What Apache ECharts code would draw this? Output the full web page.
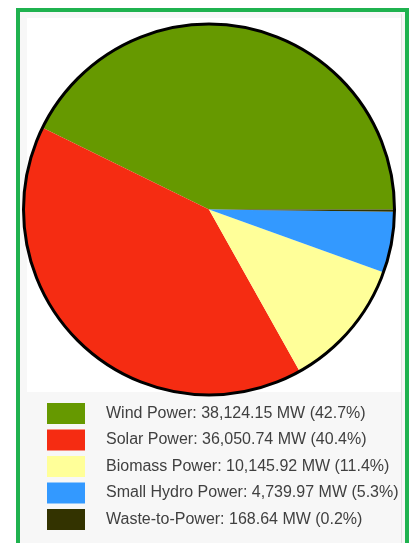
<!DOCTYPE html>
<html>
<head>
<meta charset="utf-8">
<script src="https://cdn.jsdelivr.net/npm/echarts@6/dist/echarts.min.js"></script>
<style>
  html, body { margin: 0; padding: 0; background: #ffffff; }
  #chart { width: 412px; height: 543px; }
</style>
</head>
<body>
<div id="chart"></div>
<script>
// Installed renewable capacity by source (MW)
const sources = ['Wind Power', 'Solar Power', 'Biomass Power', 'Small Hydro Power', 'Waste-to-Power'];
const capacityMW = [38124.15, 36050.74, 10145.92, 4739.97, 168.64];
const sliceColors = ['#669900', '#f52c12', '#ffff99', '#3399ff', '#333300'];

const total = capacityMW.reduce((a, b) => a + b, 0);
const fmtMW = v => v.toLocaleString('en-US', { minimumFractionDigits: 2, maximumFractionDigits: 2 });

const pieData = sources.map((name, i) => ({
  name: name,
  value: capacityMW[i],
  itemStyle: { color: sliceColors[i] }
}));

const chart = echarts.init(document.getElementById('chart'), null, { renderer: 'canvas' });

chart.setOption({
  animation: false,
  backgroundColor: '#ffffff',
  graphic: [
    // green frame
    { type: 'rect', z: -10, shape: { x: 18, y: 10, width: 389, height: 545 },
      style: { fill: '#f7f7f7', stroke: '#1fb24f', lineWidth: 4 } },
    // white plotting panel
    { type: 'rect', z: -9, shape: { x: 27, y: 18, width: 374, height: 374 },
      style: { fill: '#ffffff', lineWidth: 0 } },
    { type: 'line', z: -9, shape: { x1: 401.5, y1: 14, x2: 401.5, y2: 543 },
      style: { stroke: '#e2e2e2', lineWidth: 1 } }
  ],
  legend: {
    orient: 'vertical',
    left: 42,
    top: 398,
    itemWidth: 38,
    itemHeight: 21,
    itemGap: 5.5,
    icon: 'rect',
    selectedMode: false,
    data: sources,
    textStyle: {
      fontFamily: 'Liberation Sans, Arial, sans-serif',
      fontSize: 16,
      color: '#404040',
      padding: [0, 0, 0, 16]
    },
    formatter: function (name) {
      const i = sources.indexOf(name);
      const pct = (capacityMW[i] / total * 100).toFixed(1);
      return name + ': ' + fmtMW(capacityMW[i]) + ' MW (' + pct + '%)';
    }
  },
  series: [
    {
      type: 'pie',
      center: [209, 209.5],
      radius: [0, 186],
      startAngle: 0,
      clockwise: false,
      silent: true,
      label: { show: false },
      labelLine: { show: false },
      itemStyle: { borderWidth: 0 },
      data: pieData
    },
    {
      // outline of the whole disc
      type: 'pie',
      center: [209, 209.5],
      radius: [0, 185.5],
      silent: true,
      legendHoverLink: false,
      label: { show: false },
      labelLine: { show: false },
      itemStyle: { color: 'rgba(0,0,0,0)', borderColor: '#000000', borderWidth: 3 },
      data: [{ name: '_outline', value: 1 }],
      z: 3
    }
  ]
});
</script>
</body>
</html>
